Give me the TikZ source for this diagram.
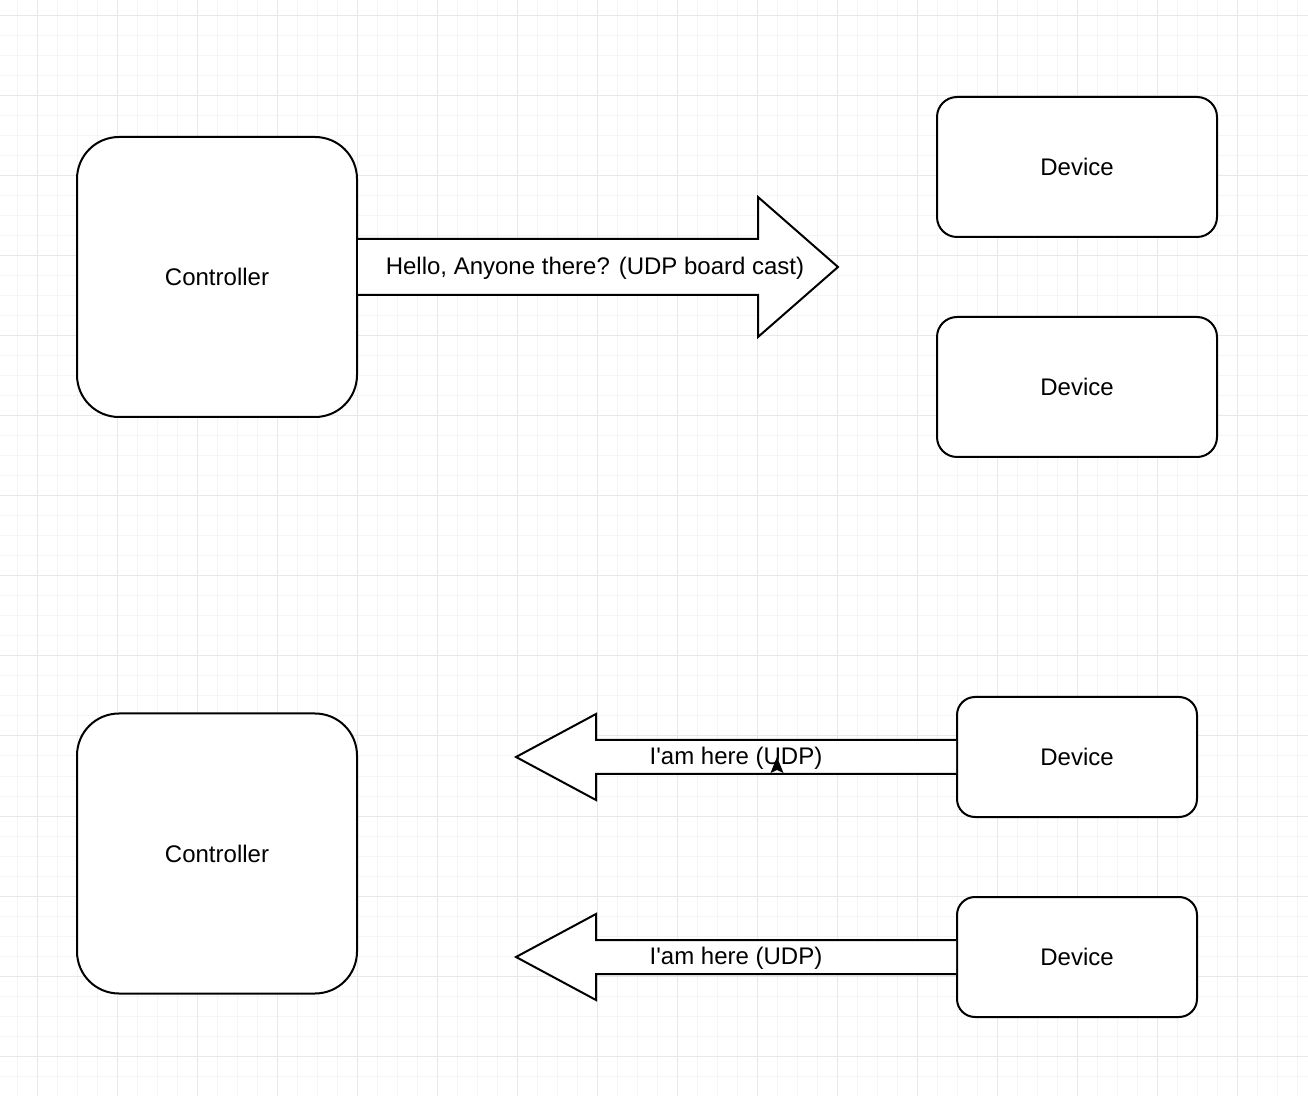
\documentclass[tikz,border=0pt]{standalone}
\usepackage{fontspec}
\setmainfont{Liberation Sans}[Ligatures=TeXOff]
\usetikzlibrary{calc}
\begin{document}
\begin{tikzpicture}[x=0.5pt,y=-0.5pt,
  box/.style={draw=black,fill=white,line width=1pt,inner sep=0pt,font=\fontsize{12}{14}\selectfont},
  ctrlbox/.style={box,minimum width=140pt,minimum height=140pt,rounded corners=21pt},
  devbig/.style={box,minimum width=140pt,minimum height=70pt,rounded corners=10pt},
  devsmall/.style={box,minimum width=120pt,minimum height=60pt,rounded corners=9pt},
  bigarrow/.style={draw=black,fill=white,line width=1pt,line join=miter},
  lbl/.style={inner sep=0pt,font=\fontsize{12}{14}\selectfont},
  minorgrid/.style={draw=black!4,line width=0.5pt},
  majorgrid/.style={draw=black!9,line width=0.5pt}]
\useasboundingbox (0,0) rectangle (1308,1096);
\fill[white] (0,0) rectangle (1308,1096);
% grid
\foreach \x in {-3,17,...,1317} {\draw[minorgrid] (\x,0) -- (\x,1096);}
\foreach \y in {-4,16,...,1100} {\draw[minorgrid] (0,\y) -- (1308,\y);}
\foreach \x in {37,117,...,1317} {\draw[majorgrid] (\x,0) -- (\x,1096);}
\foreach \y in {16,96,...,1100} {\draw[majorgrid] (0,\y) -- (1308,\y);}
% nodes
\node[ctrlbox] (c1) at (217,277) {Controller};
\node[ctrlbox] (c2) at (217,853.5) {Controller};
\node[devbig] (d1) at (1077,167) {Device};
\node[devbig] (d2) at (1077,387) {Device};
\node[devsmall] (d3) at (1077,757) {Device};
\node[devsmall] (d4) at (1077,957) {Device};
% broadcast arrow
\draw[bigarrow] ($(c1.east)+(0,-38)$) -- ($(c1.east)+(400,-38)$) -- ($(c1.east)+(400,-80)$)
  -- ($(c1.east)+(480,-10)$) -- ($(c1.east)+(400,60)$) -- ($(c1.east)+(400,18)$)
  -- ($(c1.east)+(0,18)$);
\node[lbl] (l1) at (595,268) {Hello, Anyone there? (UDP board cast)};
% reply arrows
\foreach \d in {d3,d4} {
  \draw[bigarrow] ($(\d.west)+(0,-17)$) -- ($(\d.west)+(-360,-17)$) -- ($(\d.west)+(-360,-43)$)
    -- ($(\d.west)+(-440,0)$) -- ($(\d.west)+(-360,43)$) -- ($(\d.west)+(-360,17)$)
    -- ($(\d.west)+(0,17)$);
}
\node[lbl] (l2) at (736,758) {I'am here (UDP)};
\node[lbl] (l3) at (736,958) {I'am here (UDP)};
% stray arrowhead
\coordinate (tipA) at (777,757);
\fill[black] (tipA) -- ($(tipA)+(6.5,16)$) -- ($(tipA)+(0,13)$) -- ($(tipA)+(-6.5,16)$) -- cycle;
\end{tikzpicture}
\end{document}
